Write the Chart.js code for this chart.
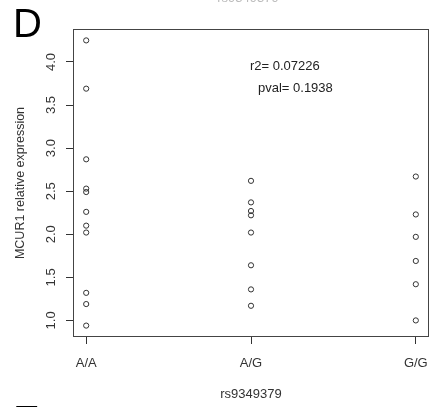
<!DOCTYPE html>
<html>
<head>
<meta charset="utf-8">
<script src="https://cdn.jsdelivr.net/npm/chart.js@4"></script>
<style>
  body { margin: 0; background: #fff; }
  canvas { display: block; }
</style>
</head>
<body>
<canvas id="myChart" width="431" height="407"></canvas>
<script>
const ctx = document.getElementById('myChart');

const genotypes = ['A/A', 'A/G', 'G/G'];
const aaValues = [4.25, 3.69, 2.87, 2.53, 2.49, 2.26, 2.10, 2.02, 1.32, 1.19, 0.94];
const agValues = [2.62, 2.37, 2.27, 2.22, 2.02, 1.64, 1.36, 1.17];
const ggValues = [2.67, 2.23, 1.97, 1.69, 1.42, 1.00];
const yTicks = [1.0, 1.5, 2.0, 2.5, 3.0, 3.5, 4.0];
const statLines = ['r2= 0.07226', 'pval= 0.1938'];

const FONT = '"Liberation Sans", Arial, sans-serif';
const INK = '#333';

// points: x = genotype index
const points = [];
[aaValues, agValues, ggValues].forEach((vals, i) => {
  vals.forEach(v => points.push({ x: i, y: v }));
});

// R-style axis limits: data range padded 4% each side
const allVals = aaValues.concat(agValues, ggValues);
const yLo = Math.min(...allVals), yHi = Math.max(...allVals);
const yPad = (yHi - yLo) * 0.04;
const xPad = (genotypes.length - 1) * 0.04;

const extras = {
  id: 'extras',
  beforeDraw(chart) {
    const c = chart.ctx;
    c.save();
    c.fillStyle = '#fff';
    c.fillRect(0, 0, chart.width, chart.height);
    c.restore();
  },
  afterDraw(chart) {
    const c = chart.ctx;
    const a = chart.chartArea;
    c.save();
    // box
    c.strokeStyle = '#444';
    c.lineWidth = 1;
    c.strokeRect(Math.round(a.left) + 0.5, Math.round(a.top) + 0.5,
      Math.round(a.right - a.left) - 1, Math.round(a.bottom - a.top) - 1);
    // stats text
    c.fillStyle = '#222';
    c.font = '13px ' + FONT;
    c.textBaseline = 'middle';
    c.textAlign = 'left';
    c.fillText(statLines[0], 250, 66);
    c.fillText(statLines[1], 258, 88);
    // panel letters
    c.fillStyle = '#000';
    c.font = '40px ' + FONT;
    c.textBaseline = 'alphabetic';
    c.fillText('D', 13, 37);
    c.fillText('E', 13, 434);
    // clipped title from the panel above
    c.fillStyle = '#bbb';
    c.font = '13px ' + FONT;
    c.textAlign = 'center';
    c.fillText('rs9349379', 248, 2);
    c.restore();
  }
};

new Chart(ctx, {
  type: 'scatter',
  data: {
    datasets: [{
      data: points,
      pointStyle: 'circle',
      pointRadius: 2.6,
      pointBorderWidth: 1,
      pointBorderColor: '#333',
      pointBackgroundColor: 'rgba(0,0,0,0)',
      pointHoverRadius: 2.6
    }]
  },
  options: {
    responsive: false,
    animation: false,
    layout: { autoPadding: false, padding: { top: 29, right: 2, left: 0, bottom: 0 } },
    plugins: {
      legend: { display: false },
      tooltip: { enabled: false }
    },
    scales: {
      x: {
        type: 'linear',
        min: -xPad,
        max: genotypes.length - 1 + xPad,
        afterBuildTicks(scale) {
          scale.ticks = genotypes.map((g, i) => ({ value: i }));
        },
        afterFit(scale) {
          scale.height = 70;
          scale.paddingLeft = 0;
          scale.paddingRight = 0;
        },
        grid: { display: true, drawOnChartArea: false, drawTicks: true, tickLength: 7, color: INK },
        border: { display: false },
        ticks: {
          color: INK,
          font: { family: FONT, size: 13 },
          padding: 12,
          maxRotation: 0,
          callback: v => genotypes[v]
        },
        title: {
          display: true,
          text: 'rs9349379',
          color: INK,
          font: { family: FONT, size: 13 },
          padding: { top: 0, bottom: 5 }
        }
      },
      y: {
        min: yLo - yPad,
        max: yHi + yPad,
        afterBuildTicks(scale) {
          scale.ticks = yTicks.map(v => ({ value: v }));
        },
        afterFit(scale) { scale.width = 73; },
        grid: { display: true, drawOnChartArea: false, drawTicks: true, tickLength: 7, color: INK },
        border: { display: false },
        ticks: {
          color: INK,
          font: { family: FONT, size: 13 },
          padding: 6,
          minRotation: 90,
          maxRotation: 90,
          crossAlign: 'center',
          callback: v => v.toFixed(1)
        },
        title: {
          display: true,
          text: 'MCUR1 relative expression',
          color: INK,
          font: { family: FONT, size: 12.5 },
          padding: { top: 13, bottom: 0 }
        }
      }
    }
  },
  plugins: [extras]
});
</script>
</body>
</html>
